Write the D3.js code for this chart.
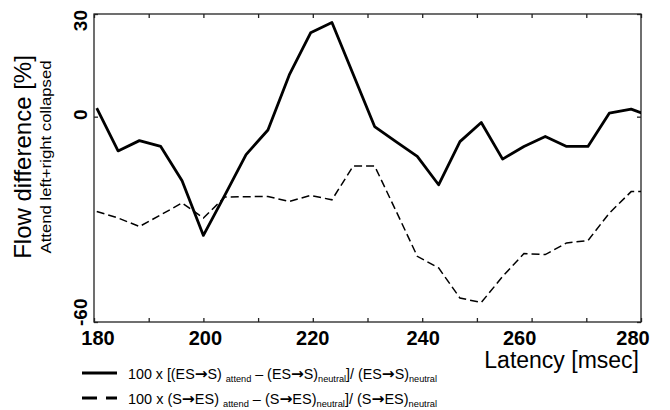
<!DOCTYPE html>
<html>
<head>
<meta charset="utf-8">
<script src="https://cdn.jsdelivr.net/npm/d3@7"></script>
<style>
  body { margin: 0; background: #fff; }
  svg { display: block; font-family: Arial, "Liberation Sans", sans-serif; }
</style>
</head>
<body>
<div class="chart"></div>
<script>
// latency of each sample (ms), 256 Hz sampling
const latency = [180.5, 184.4, 188.3, 192.2, 196.1, 200.0, 203.9, 207.8, 211.8, 215.7,
  219.6, 223.5, 227.4, 231.3, 235.2, 239.1, 243.0, 246.9, 250.8, 254.7,
  258.6, 262.5, 266.4, 270.3, 274.2, 278.2, 282.1];
// (ES->S) flow difference, solid
const esToS = [2.5, -10.0, -7.0, -8.7, -18.7, -34.7, -23.0, -11.1, -3.9, 12.2,
  24.5, 27.5, 12.3, -2.9, -7.3, -11.6, -19.9, -7.3, -1.7, -12.4,
  -8.7, -5.8, -8.7, -8.7, 1.0, 2.2, -0.1];
// (S->ES) flow difference, dashed
const sToEs = [-27.7, -29.6, -32.1, -28.7, -25.2, -29.6, -23.5, -23.4, -23.3, -24.8,
  -23.0, -24.3, -14.4, -14.4, -27.5, -40.8, -44.2, -53.0, -54.3, -46.7,
  -40.0, -40.3, -36.9, -36.2, -28.2, -21.9, -21.9];

const xTicks = [180, 190, 200, 210, 220, 230, 240, 250, 260, 270, 280];
const xLabels = [180, 200, 220, 240, 260, 280];
const yLabels = [30, 0, -60];

const width = 670, height = 410;
const pLeft = 94, pRight = 641, pTop = 14, pBottom = 322;

const svg = d3.select('.chart').append('svg')
  .attr('width', width)
  .attr('height', height);

const x = d3.scaleLinear().domain([180, 280]).range([pLeft, pRight]);
const y = d3.scaleLinear().domain([-60, 30]).range([pBottom, pTop]);

svg.append('clipPath').attr('id', 'plot')
  .append('rect')
  .attr('x', pLeft).attr('y', pTop)
  .attr('width', pRight - pLeft).attr('height', pBottom - pTop);

// ticks, pointing inward
svg.append('g')
  .attr('transform', `translate(0,${pBottom})`)
  .call(d3.axisBottom(x).tickValues(xTicks).tickSize(-4).tickFormat(''))
  .call(g => g.select('.domain').remove());
svg.append('g')
  .attr('transform', `translate(0,${pTop})`)
  .call(d3.axisTop(x).tickValues(xTicks).tickSize(-4).tickFormat(''))
  .call(g => g.select('.domain').remove());
svg.append('g')
  .attr('transform', `translate(${pLeft},0)`)
  .call(d3.axisLeft(y).tickValues(yLabels).tickSize(-4).tickFormat(''))
  .call(g => g.select('.domain').remove());
svg.append('g')
  .attr('transform', `translate(${pRight},0)`)
  .call(d3.axisRight(y).tickValues(yLabels).tickSize(-4).tickFormat(''))
  .call(g => g.select('.domain').remove());
svg.selectAll('.tick line').attr('stroke', '#222').attr('stroke-width', 1.3);

// box
svg.append('rect')
  .attr('x', pLeft).attr('y', pTop)
  .attr('width', pRight - pLeft).attr('height', pBottom - pTop)
  .attr('fill', 'none')
  .attr('stroke', '#222')
  .attr('stroke-width', 1.3);

// x labels (the scanned original sets them a little off the ticks)
const nudge = [4, 2, 0, 1, -12, -8];
svg.selectAll('.xlab')
  .data(xLabels)
  .enter().append('text')
  .attr('class', 'xlab')
  .attr('x', (d, i) => x(d) + nudge[i])
  .attr('y', 345)
  .attr('text-anchor', 'middle')
  .attr('font-size', '20px')
  .attr('font-weight', 'bold')
  .text(d => d);

// y labels, rotated
const anchors = ['end', 'middle', 'start'];
const shifts = [-4, -2, 4];
svg.selectAll('.ylab')
  .data(yLabels)
  .enter().append('text')
  .attr('class', 'ylab')
  .attr('transform', (d, i) => `translate(87,${y(d) + shifts[i]}) rotate(-90)`)
  .attr('text-anchor', (d, i) => anchors[i])
  .attr('font-size', '19px')
  .attr('font-weight', 'bold')
  .text(d => d);

// axis titles
svg.append('text')
  .attr('x', 639).attr('y', 368)
  .attr('text-anchor', 'end')
  .attr('font-size', '23px')
  .text('Latency [msec]');

svg.append('text')
  .attr('transform', 'translate(31,157) rotate(-90)')
  .attr('text-anchor', 'middle')
  .attr('font-size', '24px')
  .text('Flow difference [%]');

svg.append('text')
  .attr('transform', 'translate(51,157) rotate(-90)')
  .attr('text-anchor', 'middle')
  .attr('font-size', '14px')
  .attr('textLength', 193)
  .attr('lengthAdjust', 'spacingAndGlyphs')
  .text('Attend left+right collapsed');

// lines
const line = vals => d3.line()
  .x((d, i) => x(latency[i]))
  .y(d => y(d))(vals);

const plot = svg.append('g').attr('clip-path', 'url(#plot)');
plot.append('path')
  .attr('d', line(sToEs))
  .attr('fill', 'none')
  .attr('stroke', '#000')
  .attr('stroke-width', 1.5)
  .attr('stroke-dasharray', '8,4');
plot.append('path')
  .attr('d', line(esToS))
  .attr('fill', 'none')
  .attr('stroke', '#000')
  .attr('stroke-width', 2.8)
  .attr('stroke-linejoin', 'round');

// legend
const legendRows = [
  { dash: null, parts: [['100 x [(ES→S) '], ['attend', 1], [' – (ES→S)'], ['neutral', 1], [']/ (ES→S)'], ['neutral', 1]] },
  { dash: '15,9', parts: [['100 x (S→ES) '], ['attend', 1], [' – (S→ES)'], ['neutral', 1], [']/ (S→ES)'], ['neutral', 1]] }
];

const legend = svg.selectAll('.legend')
  .data(legendRows)
  .enter().append('g')
  .attr('class', 'legend')
  .attr('transform', (d, i) => `translate(0,${i * 25})`);

legend.append('line')
  .attr('x1', 82).attr('x2', 117)
  .attr('y1', 373).attr('y2', 373)
  .attr('stroke', '#000')
  .attr('stroke-width', 3)
  .attr('stroke-dasharray', d => d.dash);

legend.append('text')
  .attr('x', 128).attr('y', 379)
  .attr('font-size', '14px')
  .attr('textLength', 309)
  .attr('lengthAdjust', 'spacingAndGlyphs')
  .each(function(d) {
    const t = d3.select(this);
    let shifted = false;
    d.parts.forEach(p => {
      if (p[1]) {
        t.append('tspan').text(p[0]).attr('font-size', '9px').attr('dy', 3);
        shifted = true;
        return;
      }
      // big bold arrows as in the original
      p[0].split('→').forEach((chunk, j) => {
        if (j > 0) {
          const a = t.append('tspan').text('→')
            .attr('font-family', '"DejaVu Sans", sans-serif')
            .attr('font-weight', 'bold')
            .attr('font-size', '15px');
          if (shifted) { a.attr('dy', -3); shifted = false; }
        }
        if (chunk) {
          const s = t.append('tspan').text(chunk);
          if (shifted) { s.attr('dy', -3); shifted = false; }
        }
      });
    });
  });
</script>
</body>
</html>
